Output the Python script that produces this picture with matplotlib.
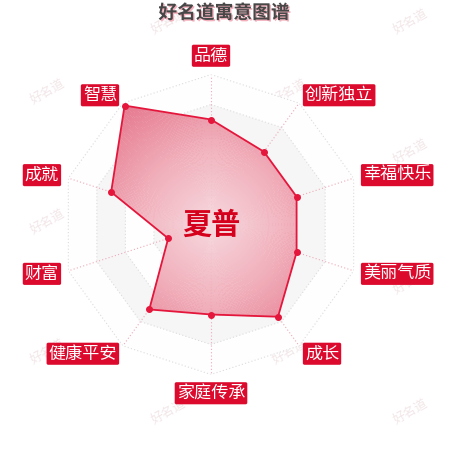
import numpy as np
import matplotlib
matplotlib.use('Agg')
import matplotlib.pyplot as plt
from matplotlib.colors import LinearSegmentedColormap
import matplotlib.patheffects as pe

plt.rcParams['font.family'] = ['Noto Sans CJK SC', 'DejaVu Sans']

title = '好名道寓意图谱'
name = '夏普'
watermark = '好名道'
categories = ['品德', '创新独立', '幸福快乐', '美丽气质', '成长',
              '家庭传承', '健康平安', '财富', '成就', '智慧']
values = [70, 60, 60, 60, 76, 60, 70, 30, 70, 98]
max_value = 100
split_number = 5

RED = '#dc0b2e'
LINE = '#e4163c'

fig = plt.figure(figsize=(4.5, 4.5), dpi=100)
fig.patch.set_facecolor('white')

# watermarks (drawn behind the chart)
wm_ax = fig.add_axes([0, 0, 1, 1], zorder=0)
wm_ax.set_axis_off()
wm_ax.set_xlim(0, 450)
wm_ax.set_ylim(450, 0)
for col, x in enumerate(np.arange(48, 460, 121)):
    y0 = 92 if col % 2 == 0 else 22
    for y in np.arange(y0, 460, 130):
        wm_ax.text(x, y, watermark, rotation=30, color='#f2e6e8',
                   fontsize=9, ha='center', va='center')

ax = fig.add_axes([61 / 450, 75.5 / 450, 300 / 450, 300 / 450], projection='polar', zorder=1)
ax.set_theta_zero_location('N')
ax.set_theta_direction(-1)
ax.set_ylim(0, max_value)
ax.set_axis_off()

n = len(categories)
angles = np.arange(n) * 2 * np.pi / n
closed = np.append(angles, angles[0])
vals_closed = np.append(values, values[0])

# split areas
for i in range(split_number, 0, -1):
    r = max_value * i / split_number
    color = '#fefefe' if (i - 1) % 2 == 0 else '#f6f6f6'
    ax.fill(closed, [r] * (n + 1), color=color, lw=0, zorder=1)
# split lines
for i in range(1, split_number + 1):
    r = max_value * i / split_number
    ax.plot(closed, [r] * (n + 1), color='#dcdcdc', lw=0.8, ls=(0, (1, 2)), zorder=2)
# axis lines
for a in angles:
    ax.plot([a, a], [0, max_value], color='#eeaab8', lw=0.8, ls=(0, (1, 2)), zorder=2)

# gradient area
cmap = LinearSegmentedColormap.from_list('g', ['#f7d8de', '#f0adb9', '#e5768c'])
th = np.linspace(0, 2 * np.pi, 361)
rr = np.linspace(0, max_value, 101)
C = np.repeat(rr[:-1][:, None], 360, axis=1)
mesh = ax.pcolormesh(th, rr, C, cmap=cmap, vmin=0, vmax=max_value, shading='flat',
                     zorder=3, alpha=0.92, antialiased=False, edgecolors='face', lw=0)
poly = ax.fill(closed, vals_closed, facecolor='none', edgecolor=LINE, lw=1.3, zorder=4)[0]
mesh.set_clip_path(poly)
ax.plot(angles, values, 'o', color=LINE, ms=4, zorder=5)

# category labels
for a, c in zip(angles, categories):
    deg = np.degrees(a) % 360
    if np.isclose(deg, 0) or np.isclose(deg, 180):
        ha = 'center'
    elif deg < 180:
        ha = 'left'
    else:
        ha = 'right'
    if np.isclose(deg, 0):
        va = 'bottom'
    elif np.isclose(deg, 180):
        va = 'top'
    else:
        va = 'center'
    ax.text(a, max_value * 1.065, c, ha=ha, va=va, color='white', fontsize=12.3,
            bbox=dict(boxstyle='round,pad=0.12,rounding_size=0.1', fc=RED, ec='none'),
            zorder=6, clip_on=False)

ax.text(0, 0, name, ha='center', va='center', fontsize=21, fontweight='bold',
        color='#d5001c', zorder=7)

fig.text(224 / 450, 1 - 13 / 450, title, ha='center', va='center', fontsize=13.5,
         fontweight='bold', color='#474747', zorder=3,
         path_effects=[pe.SimplePatchShadow(offset=(1, -1), shadow_rgbFace='#f2a6b4', alpha=0.9),
                       pe.Normal()])

fig.savefig('out.png', dpi=100, facecolor='white')
